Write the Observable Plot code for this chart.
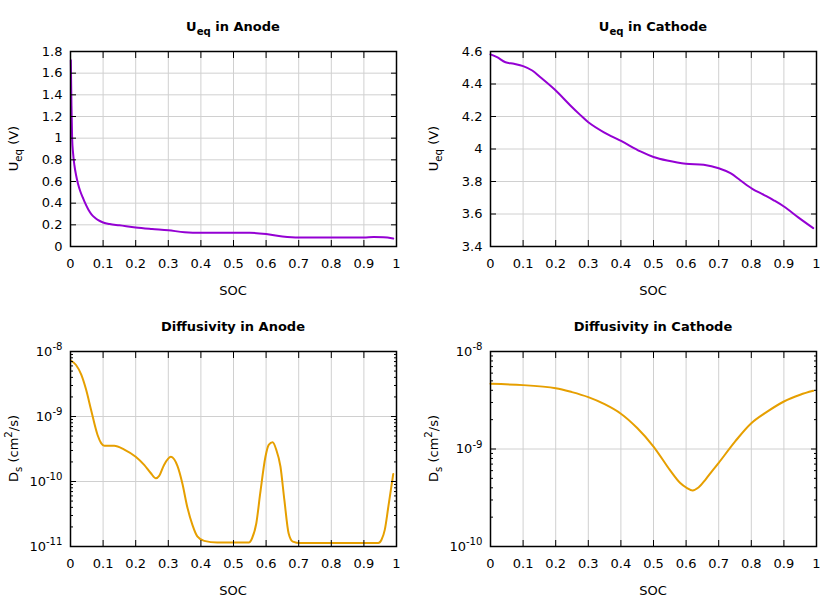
<!DOCTYPE html>
<html><head><meta charset="utf-8">
<script src="https://cdn.jsdelivr.net/npm/d3@7"></script>
<script src="https://cdn.jsdelivr.net/npm/@observablehq/plot@0.6"></script>
<style>
body{margin:0;background:#fff;}
#wrap{position:relative;width:840px;height:600px;font-family:"DejaVu Sans",sans-serif;background:#fff;}
#wrap svg{position:absolute;}
</style></head><body><div id="wrap"></div>
<script>
// ---- data ----
const xTicks = [0, 0.1, 0.2, 0.3, 0.4, 0.5, 0.6, 0.7, 0.8, 0.9, 1];

const anodeUSoc = [0.001, 0.003, 0.005, 0.008, 0.012, 0.017, 0.023, 0.03, 0.038, 0.045, 0.055, 0.065, 0.075, 0.085, 0.1, 0.12, 0.15, 0.2, 0.25, 0.3, 0.35, 0.4, 0.45, 0.5, 0.55, 0.6, 0.65, 0.7, 0.8, 0.9, 0.93, 0.96, 0.99];
const anodeUVal = [1.72, 1.3, 1.0, 0.86, 0.75, 0.66, 0.58, 0.51, 0.45, 0.4, 0.34, 0.295, 0.265, 0.243, 0.222, 0.207, 0.196, 0.176, 0.162, 0.15, 0.132, 0.127, 0.128, 0.128, 0.127, 0.115, 0.093, 0.083, 0.083, 0.083, 0.087, 0.085, 0.074];
const anodeUTicks = [0, 0.2, 0.4, 0.6, 0.8, 1, 1.2, 1.4, 1.6, 1.8];

const cathodeUSoc = [0, 0.02, 0.046, 0.072, 0.1, 0.128, 0.153, 0.197, 0.245, 0.275, 0.3, 0.348, 0.402, 0.46, 0.5, 0.542, 0.599, 0.654, 0.7, 0.736, 0.767, 0.803, 0.838, 0.87, 0.9, 0.945, 0.99];
const cathodeUVal = [4.582, 4.565, 4.534, 4.524, 4.51, 4.483, 4.442, 4.366, 4.268, 4.21, 4.165, 4.103, 4.048, 3.985, 3.951, 3.929, 3.909, 3.903, 3.882, 3.851, 3.806, 3.755, 3.718, 3.683, 3.646, 3.578, 3.513];
const cathodeUTicks = [3.4, 3.6, 3.8, 4, 4.2, 4.4, 4.6];

const anodeDSoc = [0.002, 0.017, 0.033, 0.048, 0.063, 0.083, 0.094, 0.104, 0.134, 0.165, 0.2, 0.226, 0.246, 0.262, 0.272, 0.287, 0.308, 0.318, 0.328, 0.343, 0.358, 0.374, 0.389, 0.41, 0.45, 0.547, 0.557, 0.57, 0.582, 0.598, 0.608, 0.62, 0.631, 0.644, 0.656, 0.669, 0.682, 0.705, 0.944, 0.954, 0.964, 0.975, 0.99];
const anodeDVal = [7.2e-9, 6.2e-9, 4.4e-9, 2.57e-9, 1.27e-9, 5.2e-10, 3.9e-10, 3.55e-10, 3.55e-10, 3.1e-10, 2.4e-10, 1.8e-10, 1.35e-10, 1.12e-10, 1.22e-10, 1.8e-10, 2.4e-10, 2.2e-10, 1.74e-10, 9.4e-11, 4.1e-11, 2.15e-11, 1.43e-11, 1.22e-11, 1.15e-11, 1.15e-11, 1.34e-11, 2.28e-11, 6.6e-11, 2.4e-10, 3.66e-10, 4e-10, 3.1e-10, 1.7e-10, 5.2e-11, 1.6e-11, 1.19e-11, 1.13e-11, 1.13e-11, 1.27e-11, 1.8e-11, 4.1e-11, 1.3e-10];
const anodeDTicks = [1e-11, 1e-10, 1e-9, 1e-8];

const cathodeDSoc = [0, 0.1, 0.2, 0.25, 0.3, 0.35, 0.4, 0.45, 0.5, 0.55, 0.582, 0.603, 0.62, 0.638, 0.659, 0.679, 0.7, 0.75, 0.8, 0.85, 0.9, 0.95, 0.99];
const cathodeDVal = [4.66e-9, 4.52e-9, 4.2e-9, 3.83e-9, 3.4e-9, 2.88e-9, 2.3e-9, 1.64e-9, 1.06e-9, 6.1e-10, 4.47e-10, 3.97e-10, 3.76e-10, 4.03e-10, 4.83e-10, 5.9e-10, 7.2e-10, 1.19e-9, 1.84e-9, 2.43e-9, 3.07e-9, 3.6e-9, 3.95e-9];
const cathodeDTicks = [1e-10, 1e-9, 1e-8];

const purple = "#9400d3";
const orange = "#e69f00";
const gridColor = "#d0d0d0";

function minorTicks(majors) {
  const out = [];
  for (let i = 0; i < majors.length - 1; i++)
    for (let m = 2; m <= 9; m++) out.push(m * majors[i]);
  return out;
}
const fmtX = d => String(d);
const fmtLog = d => "10^" + Math.round(Math.log10(d));

const NS = "http://www.w3.org/2000/svg";
function addRich(svg, parts, attrs) {
  const t = document.createElementNS(NS, "text");
  for (const k in attrs) t.setAttribute(k, attrs[k]);
  let shift = 0;
  for (const p of parts) {
    const s = document.createElementNS(NS, "tspan");
    let target = 0;
    if (p.sub) { target = 0.3; s.setAttribute("font-size", "0.78em"); }
    if (p.sup) { target = -0.45; s.setAttribute("font-size", "0.78em"); }
    const dy = target - shift;
    if (dy !== 0) s.setAttribute("dy", (p.sub || p.sup ? dy / 0.78 : dy) + "em");
    shift = target;
    s.textContent = p.t;
    t.appendChild(s);
  }
  svg.appendChild(t);
}

function panel(o) {
  const data = o.soc.map((s, i) => ({soc: s, v: o.val[i]}));
  const tk = {stroke: "black", strokeWidth: 1, fill: "none", label: null};
  const marks = [
    Plot.gridX(xTicks, {stroke: gridColor, strokeOpacity: 1, strokeWidth: 1}),
    Plot.gridY(o.yTicks, {stroke: gridColor, strokeOpacity: 1, strokeWidth: 1}),
    Plot.line(data, {x: "soc", y: "v", stroke: o.color, strokeWidth: 2, curve: o.curve}),
    Plot.axisX(xTicks, {anchor: "bottom", tickSize: 0, tickPadding: 12, tickFormat: fmtX, label: null, fill: "black"}),
    Plot.axisY(o.yTicks, {anchor: "left", tickSize: 0, tickPadding: 8, tickFormat: o.yFormat, label: null, fill: "black"}),
    Plot.axisX(xTicks, {anchor: "bottom", tickSize: 6, insetBottom: 6, ...tk}),
    Plot.axisX(xTicks, {anchor: "top", tickSize: 6, insetTop: 6, ...tk}),
    Plot.axisY(o.yTicks, {anchor: "left", tickSize: 6, insetLeft: 6, ...tk}),
    Plot.axisY(o.yTicks, {anchor: "right", tickSize: 6, insetRight: 6, ...tk})
  ];
  if (o.yMinor) {
    marks.push(Plot.axisY(o.yMinor, {anchor: "left", tickSize: 3, insetLeft: 3, ...tk}));
    marks.push(Plot.axisY(o.yMinor, {anchor: "right", tickSize: 3, insetRight: 3, ...tk}));
  }
  marks.push(Plot.frame({stroke: "black", strokeWidth: 1.5}));
  const svg = Plot.plot({
    width: 420, height: 300,
    marginLeft: 70, marginRight: 24, marginTop: 51, marginBottom: 54,
    style: {fontFamily: "DejaVu Sans, sans-serif", fontSize: "13px", background: "transparent", color: "black", overflow: "visible"},
    x: {domain: [0, 1]},
    y: {type: o.yType, domain: o.yDomain},
    marks
  });
  svg.style.left = o.left + "px";
  svg.style.top = o.top + "px";
  d3.select(svg).selectAll('g[aria-label="y-axis tick label"] text').each(function () {
    const t = this.textContent;
    if (t.includes("^")) {
      const [b, e] = t.split("^");
      this.textContent = b;
      d3.select(this).append("tspan").attr("dy", "-0.55em").attr("font-size", "0.78em").text(e);
    }
  });
  addRich(svg, o.title, {x: 233, y: 31, "text-anchor": "middle", "font-weight": "bold", "font-size": 13, fill: "black"});
  addRich(svg, o.ylabel, {transform: "translate(18,148.5) rotate(-90)", "text-anchor": "middle", "font-size": 13, fill: "black"});
  addRich(svg, [{t: "SOC"}], {x: 233, y: 295, "text-anchor": "middle", "font-size": 13, fill: "black"});
  document.getElementById("wrap").appendChild(svg);
}

panel({soc: anodeUSoc, val: anodeUVal, color: purple, curve: "monotone-x", yType: "linear", yDomain: [0, 1.8], yTicks: anodeUTicks, yFormat: fmtX,
  title: [{t: "U"}, {t: "eq", sub: true}, {t: " in Anode"}], ylabel: [{t: "U"}, {t: "eq", sub: true}, {t: " (V)"}], left: 0, top: 0});
panel({soc: cathodeUSoc, val: cathodeUVal, color: purple, curve: "catmull-rom", yType: "linear", yDomain: [3.4, 4.6], yTicks: cathodeUTicks, yFormat: fmtX,
  title: [{t: "U"}, {t: "eq", sub: true}, {t: " in Cathode"}], ylabel: [{t: "U"}, {t: "eq", sub: true}, {t: " (V)"}], left: 420, top: 0});
panel({soc: anodeDSoc, val: anodeDVal, color: orange, curve: "monotone-x", yType: "log", yDomain: [1e-11, 1e-8], yTicks: anodeDTicks, yMinor: minorTicks(anodeDTicks), yFormat: fmtLog,
  title: [{t: "Diffusivity in Anode"}], ylabel: [{t: "D"}, {t: "s", sub: true}, {t: " (cm"}, {t: "2", sup: true}, {t: "/s)"}], left: 0, top: 300});
panel({soc: cathodeDSoc, val: cathodeDVal, color: orange, curve: "catmull-rom", yType: "log", yDomain: [1e-10, 1e-8], yTicks: cathodeDTicks, yMinor: minorTicks(cathodeDTicks), yFormat: fmtLog,
  title: [{t: "Diffusivity in Cathode"}], ylabel: [{t: "D"}, {t: "s", sub: true}, {t: " (cm"}, {t: "2", sup: true}, {t: "/s)"}], left: 420, top: 300});
</script>
</body></html>
